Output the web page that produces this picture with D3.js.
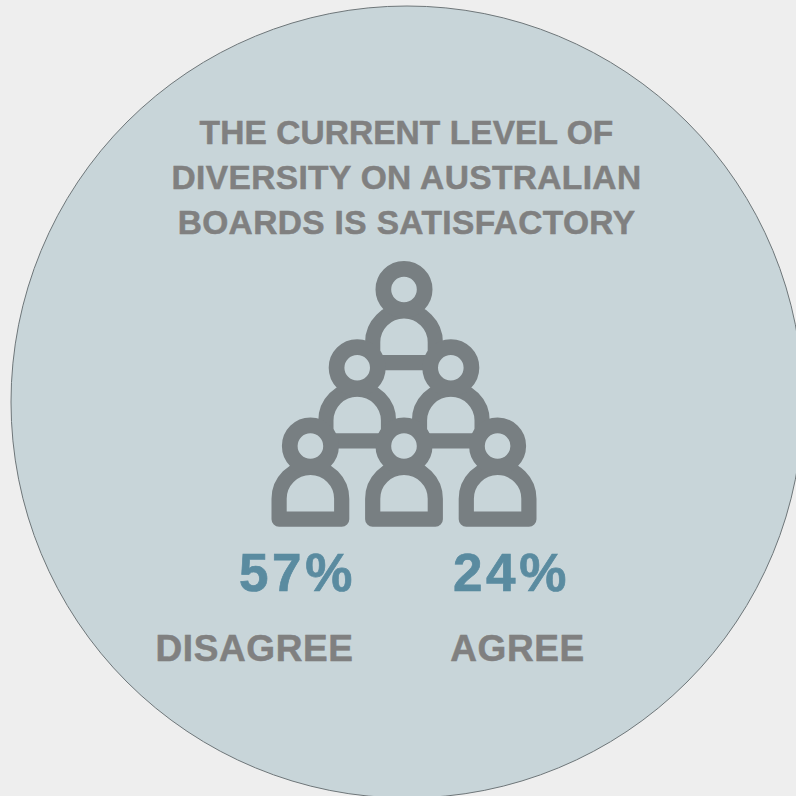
<!DOCTYPE html>
<html>
<head>
<meta charset="utf-8">
<script src="https://cdn.jsdelivr.net/npm/d3@7"></script>
<style>
html, body { margin: 0; padding: 0; background: #eeeeee; overflow: hidden; }
svg { display: block; }
text { font-family: "Liberation Sans", Arial, sans-serif; font-weight: 700; }
.copy { opacity: 0.999; }
</style>
</head>
<body>
<script>
// Survey statement, responses and the board-member pictogram layout
const titleLines = ["THE CURRENT LEVEL OF", "DIVERSITY ON AUSTRALIAN", "BOARDS IS SATISFACTORY"];
const responseLabels = ["DISAGREE", "AGREE"];
const responseValues = [57, 24];
const pictogramRows = [0, 1, 1, 2, 2, 2];
const pictogramCols = [0, -1, 1, -2, 0, 2];

const W = 796, H = 796;
const svg = d3.select("body").append("svg").attr("width", W).attr("height", H);

svg.append("circle")
  .attr("cx", 407).attr("cy", 402).attr("r", 396)
  .attr("fill", "#c8d5d9").attr("stroke", "#6e7679").attr("stroke-width", 1);

// Title, with tracking tuned line by line
const titleTracking = [0.06, 0.36, 0.36];
const titleY = d3.scalePoint().domain(d3.range(titleLines.length)).range([144, 234]);
svg.append("g").attr("class", "copy").selectAll("text").data(titleLines).join("text")
  .attr("x", 406.5).attr("y", (d, i) => titleY(i))
  .attr("text-anchor", "middle")
  .attr("font-size", 33.5)
  .attr("letter-spacing", (d, i) => titleTracking[i])
  .attr("fill", "#808080").attr("stroke", "#808080").attr("stroke-width", 0.5)
  .text(d => d);

// Pictogram: rows stack downward, columns spread either side of the axis
const x = d3.scaleLinear().domain([-2, 2]).range([310.4, 497.6]);
const y = d3.scaleLinear().domain([0, 2]).range([289.5, 446]);
const iconColor = "#787f82", hole = "#c8d5d9";
const halfW = 31.3, archDrop = 52.8, baseDrop = 73.2, headR = 20.65;

function bodyPath(cx, headY) {
  const p = d3.path();
  const top = headY + archDrop, base = headY + baseDrop;
  p.moveTo(cx - halfW, base);
  p.lineTo(cx - halfW, top);
  p.arc(cx, top, halfW, Math.PI, 2 * Math.PI);
  p.lineTo(cx + halfW, base);
  p.closePath();
  return p.toString();
}

const people = pictogramRows.map((r, i) => ({ row: r, col: pictogramCols[i] }));
const icon = svg.append("g");
icon.selectAll("path").data(people).join("path")
  .attr("d", d => bodyPath(x(d.col), y(d.row)))
  .attr("fill", "none")
  .attr("stroke", iconColor).attr("stroke-width", 15.2).attr("stroke-linejoin", "round");
icon.selectAll("circle").data(people).join("circle")
  .attr("cx", d => x(d.col)).attr("cy", d => y(d.row)).attr("r", headR)
  .attr("fill", hole)
  .attr("stroke", iconColor).attr("stroke-width", 15.7);

// Response percentages and their labels
const percentX = [297.5, 511.5];
const labelX = [254.5, 517.5];
svg.append("g").attr("class", "copy").selectAll("text").data(responseValues).join("text")
  .attr("x", (d, i) => percentX[i]).attr("y", 591)
  .attr("text-anchor", "middle")
  .attr("font-size", 53)
  .attr("letter-spacing", 3.6)
  .attr("fill", "#5a8ba0").attr("stroke", "#5a8ba0").attr("stroke-width", 0.7)
  .text(d => d3.format("d")(d) + "%");
svg.append("g").attr("class", "copy").selectAll("text").data(responseLabels).join("text")
  .attr("x", (d, i) => labelX[i]).attr("y", 661)
  .attr("text-anchor", "middle")
  .attr("font-size", 37)
  .attr("letter-spacing", 0.6)
  .attr("fill", "#808080").attr("stroke", "#808080").attr("stroke-width", 0.5)
  .text(d => d);
</script>
</body>
</html>
